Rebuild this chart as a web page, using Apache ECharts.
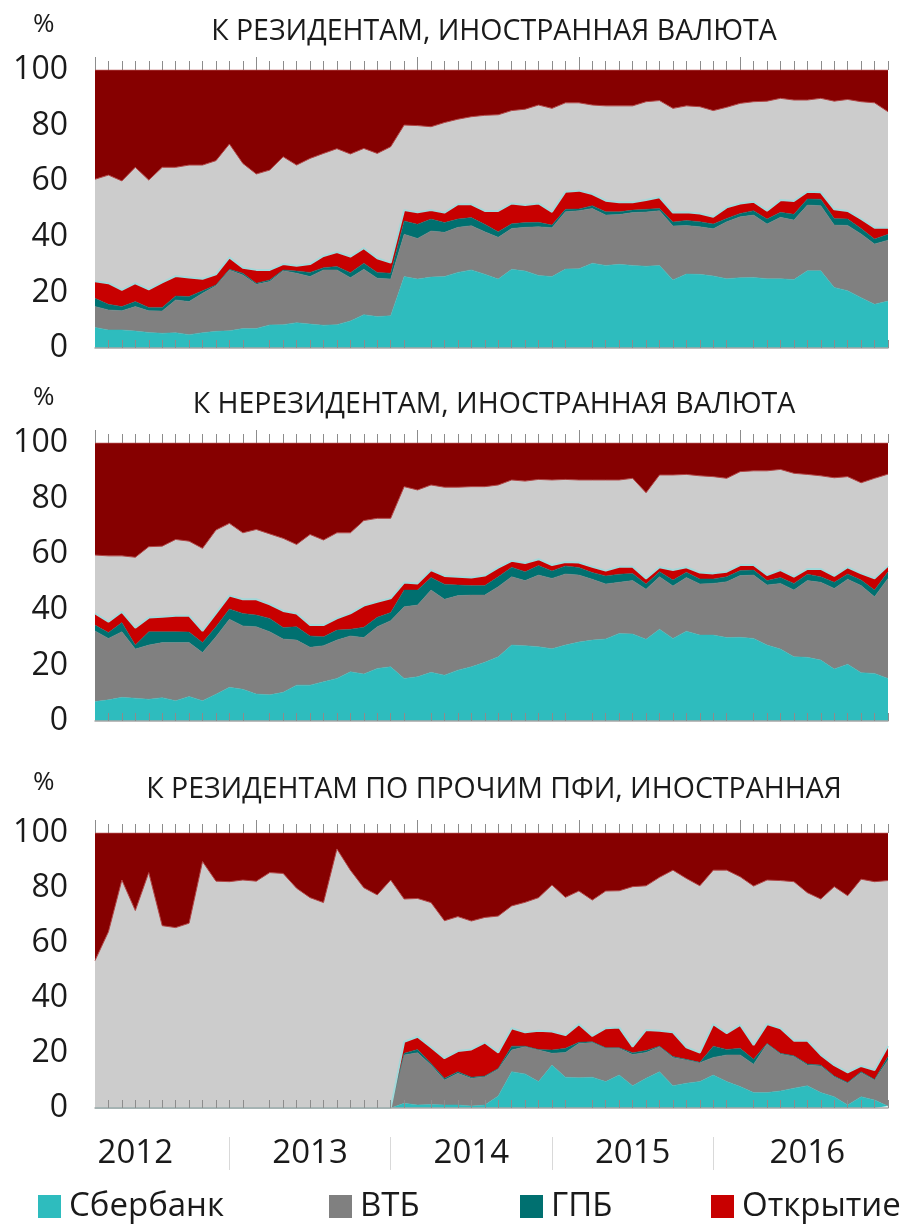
<!DOCTYPE html>
<html><head><meta charset="utf-8">
<script src="https://cdn.jsdelivr.net/npm/echarts@6/dist/echarts.min.js"></script>
<style>html,body{margin:0;padding:0;background:#fff}#c{width:904px;height:1227px}</style>
</head><body><div id="c"></div>
<script>
// ---------- DATA ----------
const months = [];
for (let k = 0; k < 60; k++) { const m = (k + 2) % 12 + 1, y = 2012 + Math.floor((k + 2) / 12); months.push((m < 10 ? '0' : '') + m + '.' + y); }
const years = ['2012', '2013', '2014', '2015', '2016'];
const yearLabelIdx = [3, 16, 28, 40, 53];
const yearSepIdx = [10, 22, 34, 46];
const titles = ['К РЕЗИДЕНТАМ, ИНОСТРАННАЯ ВАЛЮТА', 'К НЕРЕЗИДЕНТАМ, ИНОСТРАННАЯ ВАЛЮТА', 'К РЕЗИДЕНТАМ ПО ПРОЧИМ ПФИ, ИНОСТРАННАЯ'];
const seriesNames = ['Сбербанк', 'ВТБ', 'ГПБ', 'Открытие', 'Прочие банки', 'Прочие'];

// Chart 1
const sber1 = [7.4,6.5,6.5,6.1,5.6,5.3,5.5,4.8,5.5,6.0,6.2,7.0,7.0,8.3,8.4,9.1,8.6,8.2,8.4,9.7,12.0,11.3,11.6,25.7,24.8,25.5,25.7,27.2,28.1,26.5,24.8,28.3,27.7,26.1,25.7,28.4,28.5,30.5,29.7,30.1,29.7,29.4,29.7,24.5,26.6,26.5,25.9,24.9,25.3,25.4,24.9,24.9,24.6,27.8,27.8,21.8,20.6,18.1,15.7,16.9];
const vtb1 = [7.5,7.2,6.9,8.8,7.8,8.0,11.8,11.9,14.2,16.4,21.9,19.3,15.9,15.6,19.4,17.8,17.1,19.9,19.7,15.6,16.3,13.8,13.2,15.2,14.6,16.6,15.9,16.2,15.9,15.3,15.0,14.7,15.7,17.5,17.6,20.6,20.9,19.7,18.1,17.9,19.0,19.5,19.7,19.4,17.5,17.1,17.0,20.5,21.9,22.4,19.7,22.1,21.4,23.6,23.4,22.4,23.5,22.9,21.7,21.9];
const gpb1 = [3.0,2.0,1.5,1.8,1.2,1.3,1.4,1.8,0.9,0.3,0.2,0.6,0.4,0.6,0.3,0.8,1.5,0.8,1.2,1.8,2.2,2.1,2.1,4.8,5.1,4.3,3.5,3.0,2.9,2.7,2.0,1.7,1.7,1.6,0.9,0.9,0.6,1.0,1.2,1.0,0.9,1.0,0.8,1.4,1.8,1.8,1.7,1.2,1.2,1.6,1.8,1.8,2.1,2.2,2.3,2.4,2.3,2.0,1.8,2.1];
const otkr1 = [6.1,7.6,6.0,6.6,6.5,9.0,7.2,6.9,4.3,3.8,4.3,2.0,4.8,3.6,2.1,1.9,3.0,4.2,5.2,5.8,5.4,5.1,3.8,3.9,4.3,3.2,3.6,5.3,4.8,4.8,7.5,7.3,6.3,6.8,4.8,6.3,6.6,4.2,4.0,3.4,2.8,3.3,4.0,3.4,2.9,3.0,2.6,4.0,3.6,3.2,3.0,4.4,4.8,2.6,2.5,3.3,2.9,3.4,4.1,2.4];
const other1 = [36.7,38.9,39.2,41.7,39.3,41.4,39.1,40.4,40.9,40.9,40.8,37.5,34.5,35.9,38.6,36.2,38.0,36.9,37.2,36.9,35.9,37.7,41.7,30.6,31.2,30.0,32.4,30.6,31.5,34.4,34.6,33.4,34.5,35.4,37.2,32.0,31.6,32.0,34.1,34.7,34.7,35.4,34.8,37.5,38.3,38.4,38.2,36.0,36.0,36.0,39.4,36.6,36.3,33.0,33.8,38.9,40.1,42.2,44.9,41.7];
const rest1 = [39.3,37.8,39.9,35.0,39.6,35.0,35.0,34.2,34.2,32.6,26.6,33.6,37.4,36.0,31.2,34.2,31.8,30.0,28.3,30.2,28.2,30.0,27.6,19.8,20.0,20.4,18.9,17.7,16.8,16.3,16.1,14.6,14.1,12.6,13.8,11.8,11.8,12.6,12.9,12.9,12.9,11.4,11.0,13.8,12.9,13.2,14.6,13.4,12.0,11.4,11.2,10.2,10.8,10.8,10.2,11.2,10.6,11.4,11.8,15.0];

// Chart 2
const sber2 = [7.0,7.6,8.5,8.2,7.8,8.4,7.3,8.8,7.3,9.6,12.1,11.4,9.7,9.4,10.3,12.9,12.9,14.1,15.3,17.7,16.9,18.9,19.5,15.3,15.9,17.5,16.5,18.3,19.5,21.1,23.1,27.3,27.1,26.7,26.0,27.3,28.4,29.1,29.5,31.5,31.3,29.4,33.0,29.7,32.3,30.9,30.9,30.0,30.1,29.7,27.3,25.9,23.1,22.9,21.9,18.7,20.4,17.4,17.1,15.3];
const vtb2 = [25.4,22.1,23.6,17.7,19.5,19.8,20.9,19.4,17.3,20.7,24.5,22.8,24.2,22.7,19.2,16.2,13.6,13.0,13.8,12.9,13.1,15.0,16.6,25.8,25.8,29.6,27.3,26.8,25.8,24.2,25.2,24.6,23.4,25.8,25.3,25.6,24.1,21.9,19.8,18.4,19.2,18.0,18.9,18.9,19.3,18.4,18.6,20.1,22.2,22.8,21.6,23.6,24.0,27.6,28.0,29.0,30.6,31.3,27.6,36.0];
const gpb2 = [2.1,2.1,3.3,1.4,4.8,3.9,3.9,3.8,3.6,3.6,3.7,4.5,4.2,4.8,4.1,4.8,4.1,3.2,3.6,2.4,3.7,3.4,2.9,6.0,5.4,4.5,5.4,3.8,3.4,3.4,3.6,3.4,3.2,3.4,2.7,2.9,2.7,2.4,2.9,2.9,2.6,1.9,1.8,2.1,1.9,1.8,1.6,1.8,1.8,1.8,1.6,2.1,2.4,2.3,2.0,2.2,1.9,2.0,2.4,2.4];
const otkr2 = [4.2,3.9,3.9,6.3,5.1,5.4,5.8,5.9,4.2,4.8,4.8,5.1,5.7,5.1,6.0,4.8,3.9,4.2,4.2,5.7,7.8,5.6,5.1,2.7,2.4,2.7,3.0,3.0,2.9,3.6,3.3,2.3,3.1,2.3,2.1,1.4,1.8,2.1,1.9,2.7,2.4,2.0,1.6,3.6,1.8,2.3,2.0,1.8,2.0,1.8,2.0,2.7,2.4,1.9,2.8,2.3,2.4,2.4,4.2,2.1];
const other2 = [21.0,23.7,20.1,25.3,25.5,25.4,27.4,26.8,29.7,30.0,26.0,23.9,25.1,25.3,26.1,24.8,32.6,30.6,30.8,29.0,30.6,30.0,28.8,34.5,33.6,30.6,31.9,32.2,32.7,32.0,29.7,29.1,29.5,28.7,30.6,29.7,29.7,31.2,32.6,31.2,31.8,30.8,33.2,34.2,33.4,34.8,34.8,33.6,33.6,33.9,37.5,36.2,37.2,34.0,33.5,35.3,32.6,32.6,36.0,33.0];
const rest2 = [40.3,40.6,40.6,41.1,37.3,37.1,34.7,35.3,37.9,31.3,28.9,32.3,31.1,32.7,34.3,36.5,32.9,34.9,32.3,32.3,27.9,27.1,27.1,15.7,16.9,15.1,15.9,15.9,15.7,15.7,15.1,13.3,13.7,13.1,13.3,13.1,13.3,13.3,13.3,13.3,12.7,17.9,11.5,11.5,11.3,11.8,12.1,12.7,10.3,10.0,10.0,9.5,10.9,11.3,11.8,12.5,12.1,14.3,12.7,11.2];

// Chart 3
const sber3 = [0,0,0,0,0,0,0,0,0,0,0,0,0,0,0,0,0,0,0,0,0,0,0,1.7,1.1,1.3,1.1,1.1,0.7,1.1,4.4,13.2,12.4,9.6,15.6,11.2,11.0,11.2,9.6,12.0,8.1,10.8,13.2,8.1,9.0,9.6,12.0,9.6,7.8,5.6,5.6,6.2,7.2,8.1,5.6,4.1,1.1,4.1,2.9,0.7];
const vtb3 = [0,0,0,0,0,0,0,0,0,0,0,0,0,0,0,0,0,0,0,0,0,0,0,17.6,19.0,14.3,9.1,11.5,10.1,10.3,9.7,7.9,9.9,11.5,4.3,9.0,12.5,12.6,12.1,9.7,11.4,9.4,9.1,10.3,8.5,6.9,6.4,9.7,11.5,10.3,17.7,13.4,11.5,7.5,9.7,7.3,7.9,8.7,7.3,16.8];
const gpb3 = [0,0,0,0,0,0,0,0,0,0,0,0,0,0,0,0,0,0,0,0,0,0,0,0.6,1.2,0.6,0.6,0.6,0.4,0.2,0.3,1.4,0.2,0.2,1.2,1.5,0.4,0.3,0.2,0.2,0.6,0.7,0.2,0.3,0.2,0.1,4.1,2.0,2.4,1.8,0.2,0.3,0.3,0.4,0.3,0.2,0.3,0.4,0.2,1.2];
const otkr3 = [0,0,0,0,0,0,0,0,0,0,0,0,0,0,0,0,0,0,0,0,0,0,0,4.2,4.6,5.9,7.3,7.5,10.1,12.2,5.8,6.5,5.0,6.8,6.7,4.8,6.6,2.1,7.1,7.4,2.2,7.5,5.6,8.8,4.4,3.6,8.0,5.9,8.5,5.2,7.0,9.1,5.5,8.5,3.7,4.0,3.7,2.1,3.4,3.8];
const other3 = [53.6,64.1,82.9,71.8,85.6,66.3,65.6,67.2,89.6,82.5,82.3,82.9,82.5,85.6,85.3,79.9,76.5,74.7,94.2,86.5,80.1,77.5,82.9,51.9,50.3,52.6,50.0,48.9,46.7,45.5,49.6,44.5,47.3,48.4,53.3,50.1,48.4,49.4,49.9,49.7,58.2,52.4,55.8,59.0,61.4,60.6,56.0,59.3,53.9,57.8,52.4,53.7,57.8,53.8,56.7,64.9,64.2,67.9,68.5,60.2];
const rest3 = [46.4,35.9,17.1,28.2,14.4,33.7,34.4,32.8,10.4,17.5,17.7,17.1,17.5,14.4,14.7,20.1,23.5,25.3,5.8,13.5,19.9,22.5,17.1,24.0,23.8,25.3,31.9,30.4,32.0,30.7,30.2,26.5,25.2,23.5,18.9,23.4,21.1,24.4,21.1,21.0,19.5,19.2,16.1,13.5,16.5,19.2,13.5,13.5,15.9,19.3,17.1,17.3,17.7,21.7,24.0,19.5,22.8,16.8,17.7,17.3];

// ---------- CHART ----------
const FONT = 'Open Sans';
const TXT = '#1a1a1a';
const colors = ['#2ebcbe', '#808080', '#007070', '#c80000', '#cccccc', '#860000'];
const chartData = [
  [sber1, vtb1, gpb1, otkr1, other1, rest1],
  [sber2, vtb2, gpb2, otkr2, other2, rest2],
  [sber3, vtb3, gpb3, otkr3, other3, rest3]
];
const gridTops = [70, 443, 833];
const gridHeights = [278, 278, 275];
const titleTops = [17, 390, 775];
const pctTops = [12, 385, 770];

const grids = [], xAxes = [], yAxes = [], series = [], titleArr = [];
for (let g = 0; g < 3; g++) {
  grids.push({ left: 95, right: 16, top: gridTops[g], height: gridHeights[g] });
  const base = xAxes.length;
  // main axis: line + inside ticks, drawn above areas
  xAxes.push({ type: 'category', gridIndex: g, data: months, boundaryGap: false, z: 10,
    axisLine: { show: true, lineStyle: { color: '#a6a6a6', width: 1.5 } },
    axisTick: { show: true, inside: true, length: 8, interval: (i) => i % 12 !== 0, lineStyle: { color: '#8c8c8c', width: 1 } },
    axisLabel: { show: false }, splitLine: { show: false } });
  // short outward ticks
  xAxes.push({ type: 'category', gridIndex: g, data: months, boundaryGap: false,
    axisLine: { show: false },
    axisTick: { show: true, length: 9, interval: (i) => i % 12 !== 0, lineStyle: { color: '#8c8c8c', width: 1 } },
    axisLabel: { show: false }, splitLine: { show: false } });
  // long outward ticks
  xAxes.push({ type: 'category', gridIndex: g, data: months, boundaryGap: false,
    axisLine: { show: false },
    axisTick: { show: true, length: 13, interval: (i) => i % 12 === 0, lineStyle: { color: '#8c8c8c', width: 1 } },
    axisLabel: { show: false }, splitLine: { show: false } });
  yAxes.push({ type: 'value', gridIndex: g, min: 0, max: 100, interval: 20,
    axisLine: { show: false }, axisTick: { show: false }, splitLine: { show: false },
    axisLabel: { fontSize: 32, color: TXT, fontFamily: FONT, margin: 27 } });
  titleArr.push({ text: titles[g], left: 494, textAlign: 'center', top: titleTops[g], padding: 0,
    textStyle: { fontSize: 28.5, fontWeight: 'normal', color: TXT, fontFamily: FONT } });
  titleArr.push({ text: '%', left: 33, top: pctTops[g], padding: 0,
    textStyle: { fontSize: 26, fontWeight: 'normal', color: TXT, fontFamily: FONT } });
  for (let s = 0; s < 6; s++) {
    let ls;
    if (s === 3) ls = { color: '#a3d8d9', width: 2 };
    else if (s === 4 || s === 5) ls = { color: '#b04545', width: 1 };
    else ls = { color: colors[s], width: 0.5 };
    series.push({ name: seriesNames[s], type: 'line', stack: 'st' + g, xAxisIndex: base, yAxisIndex: g,
      data: chartData[g][s], symbol: 'none', showSymbol: false, smooth: false,
      lineStyle: ls, itemStyle: { color: colors[s] },
      areaStyle: { color: colors[s], opacity: 1 } });
  }
}
// year axis under chart 3
xAxes.push({ type: 'category', gridIndex: 2, data: months, boundaryGap: false, position: 'bottom', offset: 29,
  axisLine: { show: false },
  axisTick: { show: true, length: 33, interval: (i) => yearSepIdx.indexOf(i) >= 0, lineStyle: { color: '#d9d9d9', width: 1 } },
  axisLabel: { show: true, margin: 0, fontSize: 33, color: TXT, fontFamily: FONT,
    interval: (i) => yearLabelIdx.indexOf(i) >= 0,
    formatter: (v, i) => { const k = yearLabelIdx.indexOf(i); return k >= 0 ? years[k] : ''; } },
  splitLine: { show: false } });

const legendLefts = [38, 329, 520, 711];
const legends = seriesNames.slice(0, 4).map((n, k) => ({
  data: [n], left: legendLefts[k], top: 1190, padding: 0, icon: 'rect', itemWidth: 23, itemHeight: 23,
  selectedMode: false,
  textStyle: { fontSize: 33, color: TXT, fontFamily: FONT, padding: [0, 0, 0, 3] }
}));

const chart = echarts.init(document.getElementById('c'), null, { renderer: 'canvas' });
chart.setOption({
  animation: false,
  backgroundColor: '#ffffff',
  textStyle: { fontFamily: FONT },
  title: titleArr,
  legend: legends,
  grid: grids,
  xAxis: xAxes,
  yAxis: yAxes,
  series: series
});
</script>
</body></html>
